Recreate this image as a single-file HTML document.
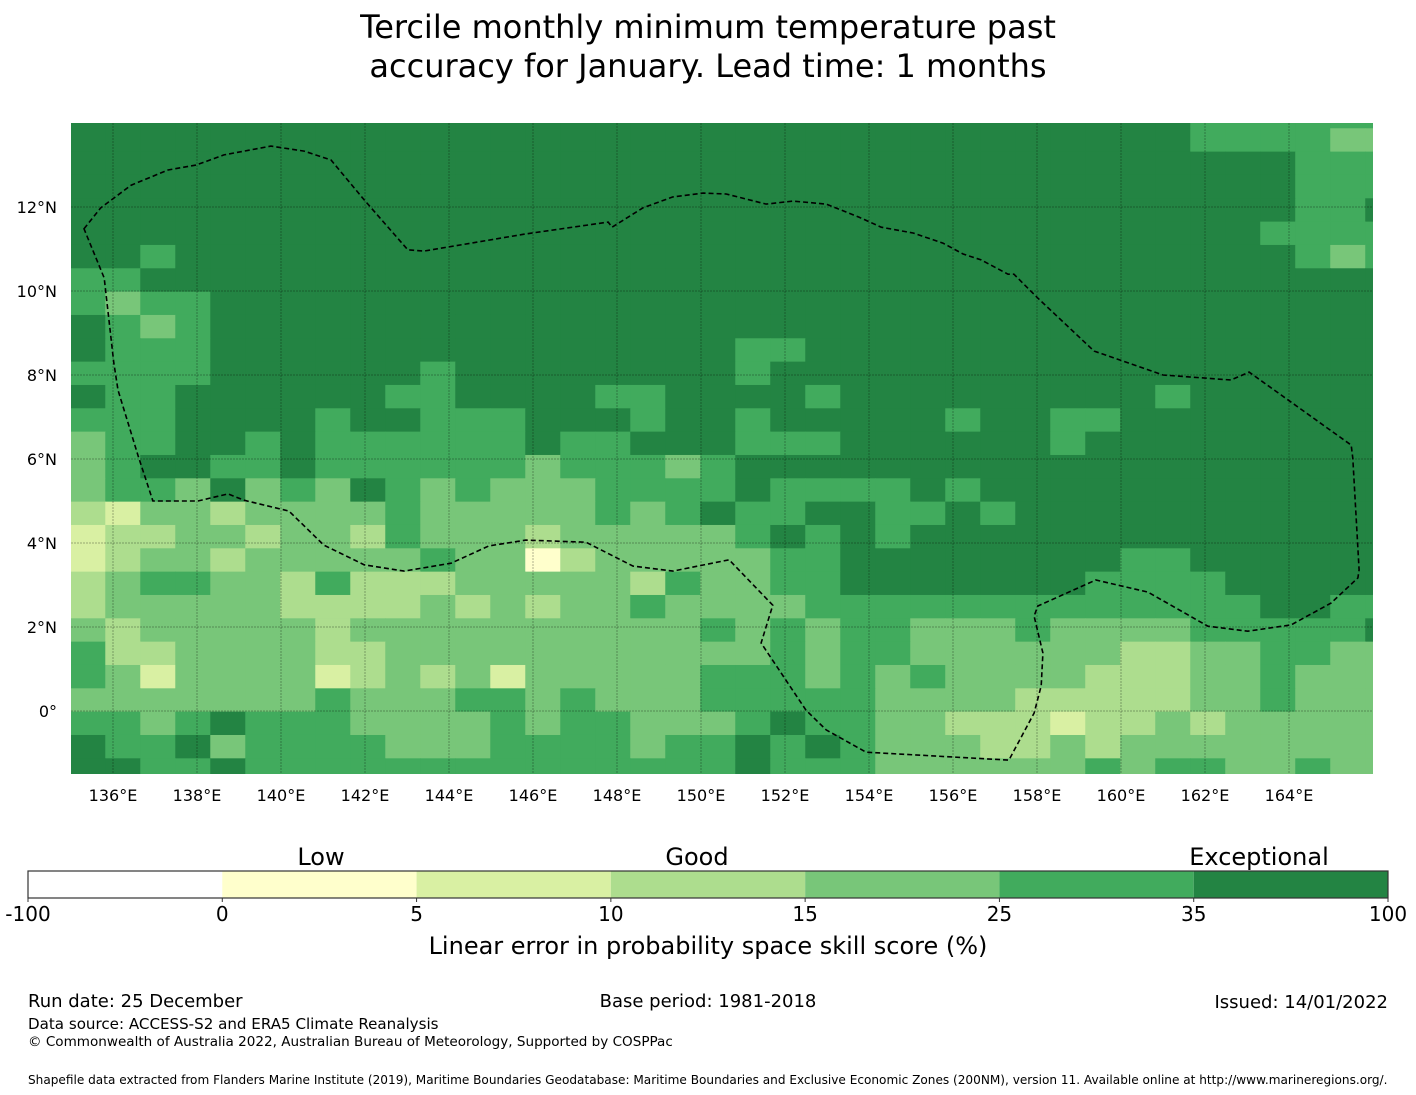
<!DOCTYPE html>
<html><head><meta charset="utf-8">
<style>
html,body{margin:0;padding:0;background:#fff;}
svg{display:block;font-family:"DejaVu Sans","Liberation Sans",sans-serif;}
</style></head>
<body>
<svg id="chart" width="1416" height="1095" viewBox="0 0 1416 1095" xmlns="http://www.w3.org/2000/svg">
<defs><clipPath id="mapclip"><rect x="71" y="123" width="1302" height="651"/></clipPath></defs>
<text x="708" y="38" text-anchor="middle" font-size="32">Tercile monthly minimum temperature past</text>
<text x="708" y="77" text-anchor="middle" font-size="32">accuracy for January. Lead time: 1 months</text>
<g id="map" clip-path="url(#mapclip)"></g>
<g id="grid"></g>
<g id="eez" clip-path="url(#mapclip)"></g>
<g id="xticks"></g>
<g id="yticks"></g>
<g id="cbar"></g>
<text x="321" y="865" text-anchor="middle" font-size="24">Low</text>
<text x="697" y="865" text-anchor="middle" font-size="24">Good</text>
<text x="1259" y="865" text-anchor="middle" font-size="24">Exceptional</text>
<text x="708" y="954" text-anchor="middle" font-size="24">Linear error in probability space skill score (%)</text>
<text x="28" y="1007" font-size="18">Run date: 25 December</text>
<text x="708" y="1007" text-anchor="middle" font-size="18">Base period: 1981-2018</text>
<text x="1388" y="1008" text-anchor="end" font-size="18">Issued: 14/01/2022</text>
<text x="28" y="1029" font-size="15.1">Data source: ACCESS-S2 and ERA5 Climate Reanalysis</text>
<text x="28" y="1046" font-size="13.55">© Commonwealth of Australia 2022, Australian Bureau of Meteorology, Supported by COSPPac</text>
<text x="28" y="1084" font-size="12.1">Shapefile data extracted from Flanders Marine Institute (2019), Maritime Boundaries Geodatabase: Maritime Boundaries and Exclusive Economic Zones (200NM), version 11. Available online at http://www.marineregions.org/.</text>
</svg>
<script>
// skill category per cell, rows from north to south, columns west to east (1..6 = colorbar bins 0-5 ... 35-100)
const skillRows = [
"66666666666666666666666666666666555555",
"66666666666666666666666666666666555544",
"66666666666666666666666666666666666555",
"66666666666666666666666666666666666555",
"66666666666666666666666666666666666556",
"66666666666666666666666666666666665555",
"66566666666666666666666666666666666545",
"55666666666666666666666666666666666666",
"54556666666666666666666666666666666666",
"65456666666666666666666666666666666666",
"65556666666666666665566666666666666666",
"55556666665666666665666666666666666666",
"65566666655666655666656666666665666666",
"55566665665556665665666665665566666666",
"45566565555556556665556666665666666666",
"45665565555554555456666666666666666666",
"45546454654544455556555565666666666666",
"32443444454444454565566556566666666666",
"23344344354443444445656566666666666666",
"23443444445441344444556666666655666666",
"34554435333444443544556666666555566666",
"34444433334343445444455555555555556655",
"43444443444444444454545544454444555556",
"53344443344444444444545544444433445544",
"54244442343424444455545454444333445444",
"44444445444554544455555444433333445444",
"55456555444454554445655443332334344444",
"65564555544455554556565444334344444444",
"66556555555555555556555444444545544544"
];
const categoryColors = ["#ffffff","#ffffcc","#d9f0a3","#addd8e","#78c679","#41ab5d","#238443"];
const lonStart = 134.983, dLon = 0.8333;
const latTopFirstRow = 14.43, dLat = 0.5556;
const lonTicks = [136,138,140,142,144,146,148,150,152,154,156,158,160,162,164];
const latTicks = [0,2,4,6,8,10,12];
const cbarBounds = ["-100","0","5","10","15","25","35","100"];
// EEZ boundary vertices (lon, lat)
const eezLon = [135.31,135.71,136.43,137.31,137.98,138.64,139.76,140.55,141.19,141.98,143.02,143.40,145.83,147.79,147.88,148.62,149.33,150.05,150.60,151.55,152.19,152.98,153.76,154.29,155.05,155.76,156.24,156.67,157.31,157.45,158.02,159.36,161.00,162.62,163.05,165.48,165.52,165.67,165.64,165.00,164.05,163.02,162.07,160.64,159.40,158.02,157.93,158.14,158.10,157.93,157.33,153.93,152.98,152.50,151.43,151.71,150.67,149.33,148.38,147.26,145.83,144.95,144.05,142.93,141.98,141.02,140.19,139.12,138.74,138.02,136.95,136.60,136.12,136.02,135.79];
const eezLat = [11.48,11.98,12.52,12.88,13.00,13.24,13.45,13.33,13.12,12.17,10.98,10.95,11.36,11.64,11.52,11.98,12.24,12.33,12.31,12.07,12.14,12.07,11.76,11.52,11.38,11.14,10.88,10.74,10.40,10.40,9.83,8.57,8.00,7.88,8.07,6.33,6.02,3.36,3.17,2.57,2.05,1.90,2.02,2.83,3.12,2.50,2.26,1.38,0.60,-0.05,-1.17,-0.98,-0.45,0.02,1.62,2.52,3.60,3.33,3.45,4.02,4.07,3.93,3.52,3.33,3.48,3.95,4.76,5.02,5.17,5.00,5.00,6.07,7.64,8.29,10.31];

const NS = "http://www.w3.org/2000/svg";
function xScale(lon){ return 113 + 42*(lon-136); }
function yScale(lat){ return 711 - 42*lat; }
function mk(tag, attrs, parent){ const e=document.createElementNS(NS,tag); for(const k in attrs) e.setAttribute(k,attrs[k]); parent.appendChild(e); return e; }

const map = document.getElementById('map');
skillRows.forEach((row, r) => {
  const latTop = latTopFirstRow - r*dLat;
  const y0 = yScale(latTop), y1 = yScale(latTop - dLat);
  for (let j=0;j<row.length;j++){
    const cat = +row[j];
    const x0 = xScale(lonStart + j*dLon), x1 = xScale(lonStart + (j+1)*dLon);
    const c = mk('rect',{x:x0,y:y0,width:x1-x0+0.6,height:y1-y0+0.6,fill:categoryColors[cat]},map);
    
    
  }
});

const grid = document.getElementById('grid');
lonTicks.forEach(l => {
  const x = xScale(l);
  const ln = mk('line',{x1:x,x2:x,y1:123,y2:774,stroke:'#000','stroke-opacity':0.3,'stroke-width':1,'stroke-dasharray':'2,1'},grid);
  
  
});
latTicks.forEach(l => {
  const y = yScale(l);
  const ln = mk('line',{x1:71,x2:1373,y1:y,y2:y,stroke:'#000','stroke-opacity':0.3,'stroke-width':1,'stroke-dasharray':'2,1'},grid);
  
  
});

const eez = document.getElementById('eez');
let pts = eezLon.map((lo,i)=> xScale(lo).toFixed(1)+','+yScale(eezLat[i]).toFixed(1)).join(' ');
const poly = mk('polygon',{points:pts,fill:'none',stroke:'#000','stroke-width':1.6,'stroke-dasharray':'5,3'},eez);



const xt = document.getElementById('xticks');
lonTicks.forEach(l => {
  const t = mk('text',{x:xScale(l),y:801,'text-anchor':'middle','font-size':16},xt);
  t.textContent = l+'°E';
  
  
});
const yt = document.getElementById('yticks');
latTicks.forEach(l => {
  const t = mk('text',{x:57,y:yScale(l)+6,'text-anchor':'end','font-size':16},yt);
  t.textContent = l===0 ? '0°' : l+'°N';
  
  
});

const cb = document.getElementById('cbar');
const cbX0 = 28, cbX1 = 1388, cbY = 871, cbH = 27;
const segW = (cbX1-cbX0)/(cbarBounds.length-1);
for (let i=0;i<cbarBounds.length-1;i++){
  const s = mk('rect',{x:cbX0+i*segW,y:cbY,width:segW,height:cbH,fill:categoryColors[i]},cb);
  
  
}
mk('rect',{x:cbX0,y:cbY,width:cbX1-cbX0,height:cbH,fill:'none',stroke:'#333','stroke-width':1.2},cb);
cbarBounds.forEach((b,i) => {
  const x = cbX0 + i*segW;
  mk('line',{x1:x,x2:x,y1:cbY+cbH,y2:cbY+cbH+4,stroke:'#333'},cb);
  const t = mk('text',{x:x,y:921,'text-anchor':'middle','font-size':20},cb);
  t.textContent = b;
  
  
});
</script>
</body></html>
